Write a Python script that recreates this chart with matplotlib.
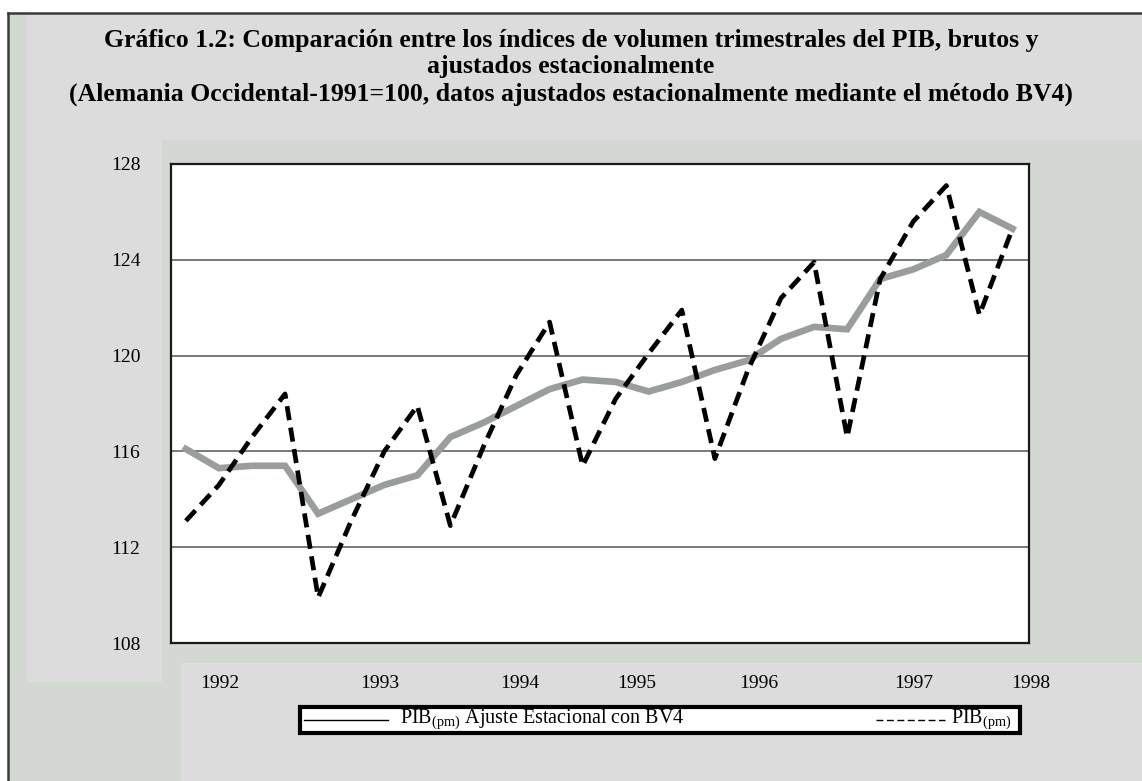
import matplotlib
matplotlib.use('Agg')
import matplotlib.pyplot as plt
from matplotlib.patches import Rectangle
from matplotlib.lines import Line2D

W, H = 1142, 781
plt.rcParams['font.family'] = ['Liberation Serif', 'DejaVu Serif']
plt.rcParams['mathtext.fontset'] = 'custom'
plt.rcParams['mathtext.rm'] = 'Liberation Serif'

# ── data (1992 T1 .. 1998 T2, índice 1991=100) ────────────────────────────
trimestre = list(range(26))
pib_bruto = [113.1, 114.6, 116.6, 118.4, 109.9, 113.1, 116.0, 117.9,
             112.9, 116.2, 119.2, 121.4, 115.4, 118.2, 120.1, 121.9,
             115.7, 119.4, 122.4, 123.9, 116.6, 123.2, 125.6, 127.1,
             121.7, 125.3]
pib_ajustado = [116.1, 115.3, 115.4, 115.4, 113.4, 114.0, 114.6, 115.0,
                116.6, 117.2, 117.9, 118.6, 119.0, 118.9, 118.5, 118.9,
                119.4, 119.8, 120.7, 121.2, 121.1, 123.2, 123.6, 124.2,
                126.0, 125.3]
y_ticks = [108, 112, 116, 120, 124, 128]
anios = ['1992', '1993', '1994', '1995', '1996', '1997', '1998']
anios_px = [220, 380, 520, 637, 759, 914, 1031]   # label centres (pixels)

titulo = ["Gráfico 1.2: Comparación entre los índices de volumen trimestrales del PIB, brutos y",
          "ajustados estacionalmente",
          "(Alemania Occidental-1991=100, datos ajustados estacionalmente mediante el método BV4)"]

LIGHT = "#dcdcdc"
GREEN = "#d3d8d3"
GRAYLINE = "#9a9e9a"


def fx(x):
    return x / W


def fy(y):
    return 1 - y / H


def box(x0, y0, x1, y1, color, **kw):
    r = Rectangle((fx(x0), fy(y1)), (x1 - x0) / W, (y1 - y0) / H,
                  transform=fig.transFigure, facecolor=color, zorder=-5, **kw)
    fig.add_artist(r)
    return r


fig = plt.figure(figsize=(W / 100, H / 100), dpi=100, facecolor="white")

# background panels
box(8, 13, W, H, GREEN, edgecolor="none")
box(27, 14, W, 140, LIGHT, edgecolor="none")
box(27, 140, 162, 682, LIGHT, edgecolor="none")
box(181, 663, W, H, LIGHT, edgecolor="none")
fig.add_artist(Line2D([fx(8), fx(W)], [fy(13), fy(13)], transform=fig.transFigure,
                      color="#3a3a3a", lw=1.8))
fig.add_artist(Line2D([fx(8), fx(8)], [fy(13), fy(H)], transform=fig.transFigure,
                      color="#3a3a3a", lw=1.8))

# title
for line, yy in zip(titulo, [40, 67, 94]):
    fig.text(0.5, fy(yy), line, ha="center", va="center", fontsize=18.5,
             fontweight="bold")

# plot area
ax = fig.add_axes([fx(171), fy(643), (1029 - 171) / W, (643 - 164) / H])
ax.set_facecolor("white")
ax.plot(trimestre, pib_ajustado, color=GRAYLINE, lw=4.8, solid_joinstyle="miter", zorder=3)
ax.plot(trimestre, pib_bruto, color="black", lw=3.4, dashes=(3.0, 1.6), zorder=4)
ax.set_xlim(-0.45, 25.5)
ax.set_ylim(108, 128)
ax.set_yticks(y_ticks)
ax.set_yticklabels([str(v) for v in y_ticks], fontsize=14)
ax.set_xticks([])
ax.tick_params(axis="y", length=0, pad=22)
ax.yaxis.grid(True, color="#6e6e6e", lw=1.3)
ax.set_axisbelow(True)
for s in ax.spines.values():
    s.set_color("#1a1a1a")
    s.set_linewidth(1.6)

for lbl, xp in zip(anios, anios_px):
    fig.text(fx(xp), fy(683), lbl, ha="center", va="center", fontsize=14)

# legend box
LEG_Y = 720
box(300, 707, 1020, 733, "white", edgecolor="black", linewidth=3.0).set_zorder(5)
fig.add_artist(Line2D([fx(304), fx(388)], [fy(LEG_Y)] * 2, transform=fig.transFigure,
                      color="black", lw=1.0, zorder=6))
fig.text(fx(400), fy(LEG_Y), r"PIB$_{\mathrm{(pm)}}$ Ajuste Estacional con BV4",
         ha="left", va="center", fontsize=14.5, zorder=6)
fig.add_artist(Line2D([fx(876), fx(945)], [fy(LEG_Y)] * 2, transform=fig.transFigure,
                      color="black", lw=1.0, dashes=(5, 2.5), zorder=6))
fig.text(fx(951), fy(LEG_Y), r"PIB$_{\mathrm{(pm)}}$", ha="left", va="center",
         fontsize=14.5, zorder=6)

fig.savefig("out.png", dpi=100, facecolor=fig.get_facecolor())
